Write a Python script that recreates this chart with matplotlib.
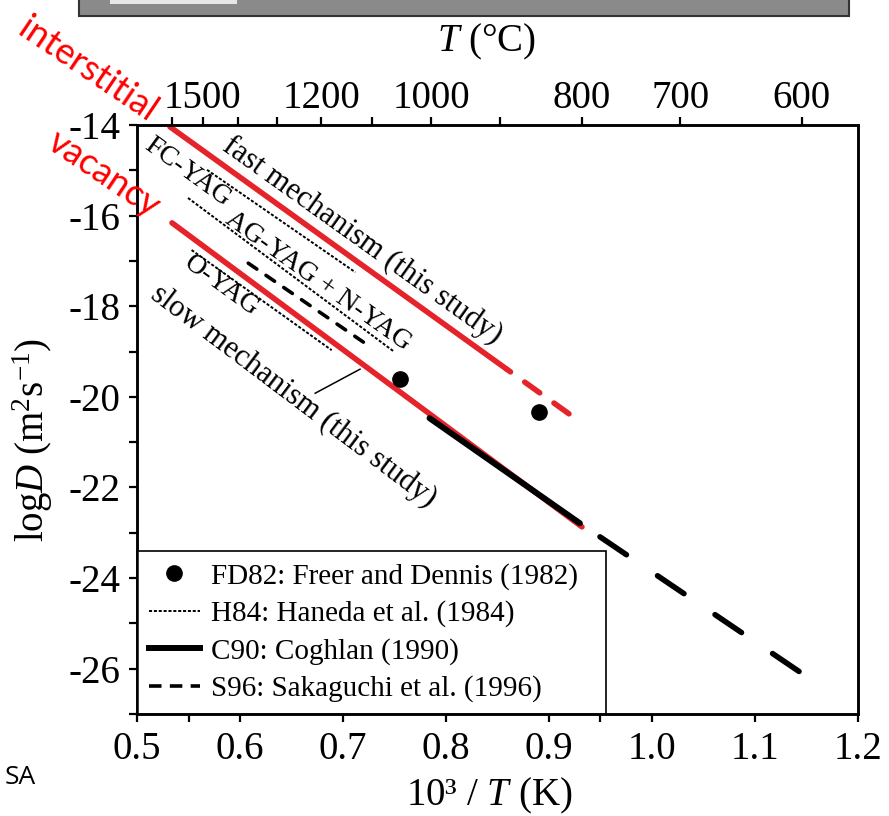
import numpy as np
import matplotlib
matplotlib.use('Agg')
import matplotlib.pyplot as plt
from matplotlib.lines import Line2D
from matplotlib.patches import Rectangle

# ---------------- data ----------------
fast_solid_x = [0.532, 0.859]
fast_solid_y = [-14.04, -19.39]
fast_dash_x = [0.859, 0.932]
fast_dash_y = [-19.39, -20.58]
slow_x = [0.534, 0.932]
slow_y = [-16.16, -22.87]
fd82_x = [0.755, 0.890]
fd82_y = [-19.61, -20.34]
h84_fc_x = [0.568, 0.712]
h84_fc_y = [-14.99, -17.25]
h84_ag_x = [0.5495, 0.750]
h84_ag_y = [-15.61, -19.01]
h84_o_x = [0.553, 0.689]
h84_o_y = [-16.76, -18.97]
c90_x = [0.784, 0.930]
c90_y = [-20.47, -22.79]
s96_a_x = [0.608, 0.728]
s96_a_y = [-17.05, -18.92]
s96_b_x = [0.9495, 1.1466]
s96_b_y = [-23.09, -26.12]

x_ticks = [0.5, 0.6, 0.7, 0.8, 0.9, 1.0, 1.1, 1.2]
x_tick_labels = ['0.5', '0.6', '0.7', '0.8', '0.9', '1.0', '1.1', '1.2']
x_minor = [0.55, 0.95]
y_ticks = [-26, -24, -22, -20, -18, -16, -14]
y_minor = [-27, -25, -23, -21, -19, -17, -15]
temps_c = [1600, 1500, 1400, 1300, 1200, 1100, 1000, 900, 800, 700, 600]
temp_labels = ['', '1500', '', '', '1200', '', '1000', '', '800', '700', '600']

legend_labels = ['FD82: Freer and Dennis (1982)', 'H84: Haneda et al. (1984)',
                 'C90: Coghlan (1990)', 'S96: Sakaguchi et al. (1996)']

RED = '#e5232b'
SERIF = 'Liberation Serif'

plt.rcParams['font.family'] = [SERIF, 'DejaVu Serif']
plt.rcParams['mathtext.fontset'] = 'custom'
plt.rcParams['mathtext.rm'] = SERIF
plt.rcParams['mathtext.it'] = SERIF + ':italic'
plt.rcParams['mathtext.bf'] = SERIF + ':bold'
plt.rcParams['lines.scale_dashes'] = False

W, H = 889, 816
fig = plt.figure(figsize=(W / 100, H / 100), dpi=100)
L, R, T, B = 137, 858, 125, 714
ax = fig.add_axes([L / W, 1 - B / H, (R - L) / W, (B - T) / H])
ax.set_xlim(0.5, 1.2)
ax.set_ylim(-27, -14)

# H84 fine dashed
h84_style = dict(color='k', lw=1.4, linestyle=(0, (2.2, 1.3)), dash_capstyle='butt')
for xs, ys in [(h84_fc_x, h84_fc_y), (h84_ag_x, h84_ag_y), (h84_o_x, h84_o_y)]:
    ax.plot(xs, ys, **h84_style)

# S96 dashed
ax.plot(s96_a_x, s96_a_y, color='k', lw=2.6, linestyle=(0, (7.5, 8.0)),
        dash_capstyle='round')
ax.plot(s96_b_x, s96_b_y, color='k', lw=4.0, linestyle=(0, (23, 27)),
        dash_capstyle='round')

# this study
ax.plot(fast_solid_x, fast_solid_y, color=RED, lw=4.0, solid_capstyle='round', clip_on=False)
ax.plot(fast_dash_x, fast_dash_y, color=RED, lw=4.0, linestyle=(10, (13.3, 12.6)),
        dash_capstyle='round')
ax.plot(slow_x, slow_y, color=RED, lw=4.0, solid_capstyle='round')

# C90
ax.plot(c90_x, c90_y, color='k', lw=4.3, solid_capstyle='round')

# FD82
ax.plot(fd82_x, fd82_y, 'o', color='k', ms=11, ls='none')

# labels on plot
ax.text(0.719, -16.56, 'fast mechanism (this study)', rotation=-35.5, fontsize=22,
        ha='center', va='center', rotation_mode='anchor')
ax.text(0.549, -15.05, 'FC-YAG', rotation=-36, fontsize=20,
        ha='center', va='center', rotation_mode='anchor')
ax.text(0.676, -17.45, 'AG-YAG + N-YAG', rotation=-35.5, fontsize=20,
        ha='center', va='center', rotation_mode='anchor')
ax.text(0.582, -17.55, 'O-YAG', rotation=-36, fontsize=20,
        ha='center', va='center', rotation_mode='anchor')
ax.text(0.652, -20.0, 'slow mechanism (this study)', rotation=-37, fontsize=22,
        ha='center', va='center', rotation_mode='anchor')
ax.plot([0.673, 0.7165], [-19.92, -19.39], color='k', lw=1.1)

# ticks
ax.set_xticks(x_ticks)
ax.set_xticklabels(x_tick_labels)
ax.set_xticks(x_minor, minor=True)
ax.set_yticks(y_ticks)
ax.set_yticklabels([str(v) for v in y_ticks])
ax.set_yticks(y_minor, minor=True)
ax.tick_params(axis='both', which='both', direction='out', length=6, width=1.6,
               labelsize=28, pad=6)
for s in ax.spines.values():
    s.set_linewidth(1.8)

ax.set_xlabel('10³ / $\\it{T}$ (K)', fontsize=28)
ax.xaxis.set_label_coords(0.488, -0.105)
ax.set_ylabel('log$\\it{D}$ (m$^{2}$s$^{\\mathrm{-1}}$)', fontsize=28)
ax.yaxis.set_label_coords(-0.114, 0.465)

# top axis
ax2 = ax.twiny()
ax2.set_xlim(ax.get_xlim())
ax2.set_xticks([1000.0 / (t + 273.15) for t in temps_c])
ax2.set_xticklabels(temp_labels)
ax2.tick_params(axis='x', direction='out', length=6, width=1.6, labelsize=28, pad=0)
for s in ax2.spines.values():
    s.set_linewidth(1.8)
ax2.set_xlabel('$\\it{T}$ (°C)', fontsize=28)
ax2.xaxis.set_label_coords(0.485, 1.125)

# legend
handles = [
    Line2D([], [], marker='o', color='k', ls='none', ms=11),
    Line2D([], [], color='k', lw=1.4, linestyle=(0, (2.2, 1.3))),
    Line2D([], [], color='k', lw=4.3),
    Line2D([], [], color='k', lw=2.6, linestyle=(0, (9, 6))),
]
leg = ax.legend(handles, legend_labels, loc='lower left',
                bbox_to_anchor=(0, 0, (606 - L) / (R - L), 0.3), mode='expand',
                borderaxespad=0, fontsize=21, frameon=True, fancybox=False,
                edgecolor='k', framealpha=1, handlelength=1.75, handletextpad=0.4,
                labelspacing=0.36, borderpad=0.4)
leg.get_frame().set_linewidth(1.2)

# decorations outside the chart
fig.add_artist(Rectangle((79 / W, 1 - 16 / H), (849 - 79) / W, 0.05, transform=fig.transFigure,
                         facecolor='#8a8a8a', edgecolor='#333333', lw=1.5))
fig.add_artist(Rectangle((110 / W, 1 - 4 / H), 127 / W, 0.02, transform=fig.transFigure,
                         facecolor='#e6e6e6', edgecolor='none'))
fig.text(88 / W, 1 - 70 / H, 'interstitial', rotation=-34, color='red', fontsize=26,
         family='Lato', ha='center', va='center', rotation_mode='anchor')
fig.text(104 / W, 1 - 174 / H, 'vacancy', rotation=-34, color='red', fontsize=26,
         family='Lato', ha='center', va='center', rotation_mode='anchor')
fig.text(5 / W, 1 - 778 / H, 'SA', color='k', fontsize=19, family='Open Sans',
         ha='left', va='center')

fig.savefig('out.png', dpi=100)
